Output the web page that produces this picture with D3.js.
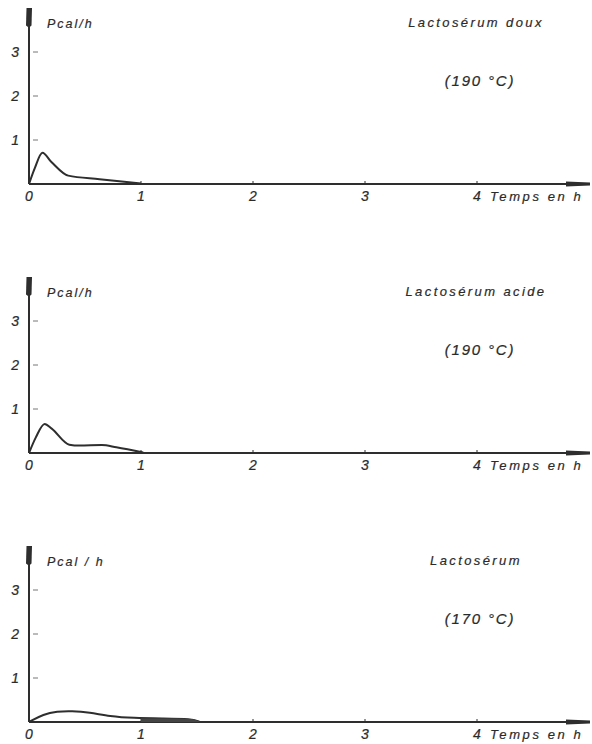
<!DOCTYPE html>
<html>
<head>
<meta charset="utf-8">
<script src="https://cdn.jsdelivr.net/npm/d3@7"></script>
<style>
  body { margin: 0; background: #fff; }
  text { font-family: "Liberation Sans", Arial, sans-serif; font-style: italic; fill: #2a2a2a; stroke: #2a2a2a; stroke-width: 0.2; }
</style>
</head>
<body>
<div id="chart"></div>
<script>
// panel titles
var titles = ["Lactosérum doux", "Lactosérum acide", "Lactosérum"];
var temps = ["(190 °C)", "(190 °C)", "(170 °C)"];
var xTicks = [0, 1, 2, 3, 4];
var yTicks = [1, 2, 3];

// time (h) and power (Pcal/h)
var doux = [[0, 0], [0.05, 0.35], [0.12, 0.71], [0.2, 0.5], [0.35, 0.19], [0.63, 0.11], [0.85, 0.05], [1.0, 0.01]];
var acide = [[0, 0], [0.06, 0.35], [0.14, 0.66], [0.2, 0.56], [0.36, 0.19], [0.45, 0.17], [0.65, 0.18], [0.78, 0.13], [1.02, 0.01]];
var lacto = [[0, 0], [0.13, 0.18], [0.25, 0.24], [0.38, 0.25], [0.54, 0.22], [0.72, 0.13], [0.93, 0.09], [1.2, 0.08], [1.45, 0.07], [1.52, 0.01]];
// dark band under the curve at the end of the third run
var lactoBand = [[1.0, 0.08], [1.2, 0.08], [1.45, 0.07], [1.52, 0.01]];

var series = [doux, acide, lacto];
var bands = [null, null, lactoBand];

var W = 592, H = 744;
var ink = "#2e2e2e";

var svg = d3.select("#chart").append("svg")
    .attr("width", W)
    .attr("height", H);

var x = d3.scaleLinear().domain([0, 4]).range([29, 477]);
var panelBase = [184, 453, 722];

panelBase.forEach(function(base, i) {
    var y = d3.scaleLinear().domain([0, 4]).range([base, base - 176]);
    var g = svg.append("g");

    // y axis with arrow
    g.append("line")
        .attr("x1", x(0)).attr("x2", x(0))
        .attr("y1", y(0)).attr("y2", y(3.7))
        .attr("stroke", ink).attr("stroke-width", 2);
    g.append("path")
        .attr("d", `M${x(0) - 3},${y(3.6)} L${x(0) - 2.5},${y(4)} L${x(0) + 3},${y(4)} L${x(0) + 2.5},${y(3.6)} L${x(0)},${y(3.55)} Z`)
        .attr("fill", ink);

    // x axis with arrow
    g.append("line")
        .attr("x1", x(0)).attr("x2", 572)
        .attr("y1", y(0)).attr("y2", y(0))
        .attr("stroke", ink).attr("stroke-width", 2);
    g.append("path")
        .attr("d", `M566,${y(0) - 2.5} L590,${y(0) - 1.5} L590,${y(0) + 1.5} L566,${y(0) + 2.5} Z`)
        .attr("fill", ink);

    // ticks
    g.selectAll(".xt").data(xTicks.slice(1)).enter().append("line")
        .attr("x1", d => x(d)).attr("x2", d => x(d))
        .attr("y1", y(0) - 3).attr("y2", y(0) + 1)
        .attr("stroke", ink).attr("stroke-width", 1);
    g.selectAll(".yt").data(yTicks).enter().append("line")
        .attr("x1", x(0) + 4).attr("x2", x(0) + 9)
        .attr("y1", d => y(d)).attr("y2", d => y(d))
        .attr("stroke", "#777").attr("stroke-width", 1);

    // tick labels
    var lblY = y(0) + 17;
    g.selectAll(".xl").data(xTicks).enter().append("text")
        .attr("x", d => x(d) - 4)
        .attr("y", lblY)
        .attr("font-size", 14)
        .text(d => d);
    g.append("text")
        .attr("x", x(4) + 13)
        .attr("y", lblY)
        .attr("font-size", 13)
        .attr("letter-spacing", 2.6)
        .text("Temps en h");
    g.selectAll(".yl").data(yTicks).enter().append("text")
        .attr("x", 19)
        .attr("y", d => y(d) + 5)
        .attr("text-anchor", "end")
        .attr("font-size", 14)
        .text(d => d);

    // unit, title, temperature
    g.append("text")
        .attr("x", 47).attr("y", y(0) - 156)
        .attr("font-size", 12.5)
        .attr("letter-spacing", 2)
        .text(i === 2 ? "Pcal / h" : "Pcal/h");
    g.append("text")
        .attr("x", 476).attr("y", y(0) - 157)
        .attr("text-anchor", "middle")
        .attr("font-size", 13)
        .attr("letter-spacing", 2.4)
        .text(titles[i]);
    g.append("text")
        .attr("x", 480).attr("y", y(0) - 98)
        .attr("text-anchor", "middle")
        .attr("font-size", 15)
        .attr("letter-spacing", 1.8)
        .text(temps[i]);

    // curve
    var line = d3.line()
        .x(d => x(d[0]))
        .y(d => y(d[1]))
        .curve(i === 2 ? d3.curveBasis : d3.curveMonotoneX);
    g.append("path")
        .datum(series[i])
        .attr("d", line)
        .attr("fill", "none")
        .attr("stroke", ink)
        .attr("stroke-width", 2)
        .attr("stroke-linejoin", "round");

    if (bands[i]) {
        var area = d3.area()
            .x(d => x(d[0]))
            .y0(y(0))
            .y1(d => y(d[1]))
            .curve(d3.curveMonotoneX);
        g.append("path")
            .datum(bands[i])
            .attr("d", area)
            .attr("fill", "#444");
    }
});
</script>
</body>
</html>
